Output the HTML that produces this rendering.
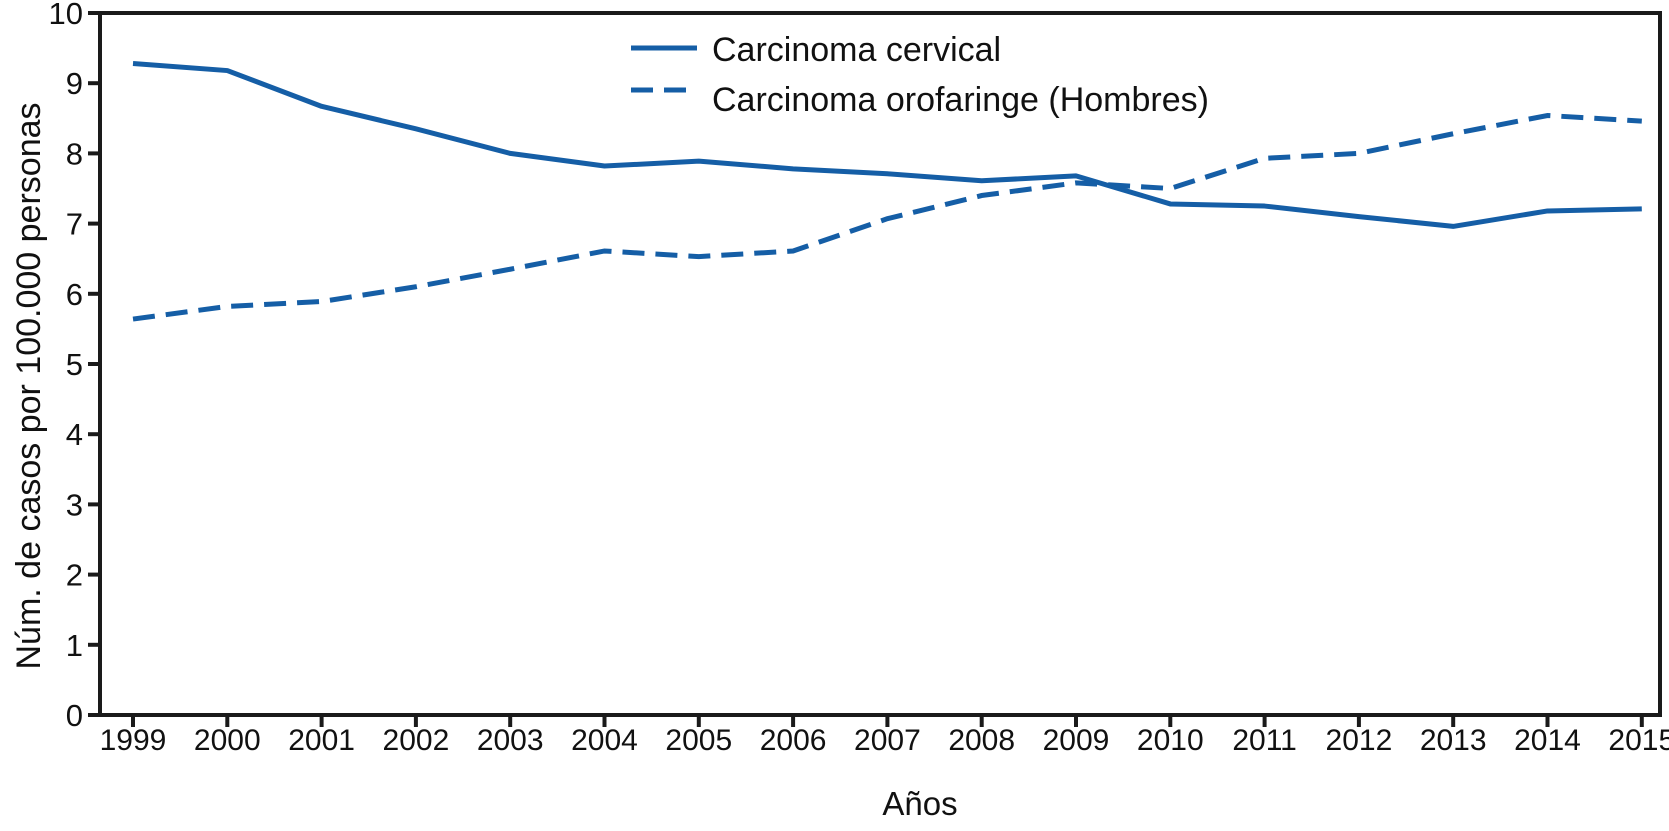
<!DOCTYPE html>
<html><head><meta charset="utf-8"><style>
body{margin:0;background:#fff}
text{font-family:"Liberation Sans",sans-serif;fill:#111}
</style></head><body>
<svg id="c" width="1669" height="826" xmlns="http://www.w3.org/2000/svg">
<rect x="100" y="13" width="1560" height="702" fill="none" stroke="#1a1a1a" stroke-width="4"/>
<g id="ax"></g>
<g id="ln"></g>
<g>
<line x1="631" y1="48" x2="697" y2="48" stroke="#155ea6" stroke-width="5"/>
<text x="712" y="61" font-size="34">Carcinoma cervical</text>
<line x1="631" y1="90" x2="697" y2="90" stroke="#155ea6" stroke-width="5" stroke-dasharray="22,11"/>
<text x="712" y="111" font-size="34">Carcinoma orofaringe (Hombres)</text>
</g>
<text x="920" y="815" font-size="33" text-anchor="middle">Años</text>
<text transform="translate(40,386) rotate(-90)" font-size="34" text-anchor="middle">Núm. de casos por 100.000 personas</text>
</svg>
<script>
const years=[1999,2000,2001,2002,2003,2004,2005,2006,2007,2008,2009,2010,2011,2012,2013,2014,2015];
const cervical=[9.28,9.18,8.67,8.35,8.0,7.82,7.89,7.78,7.71,7.61,7.68,7.28,7.25,7.1,6.96,7.18,7.21];
const orofaringe=[5.64,5.82,5.89,6.1,6.35,6.61,6.53,6.61,7.07,7.4,7.58,7.5,7.93,8.0,8.28,8.54,8.46];
const yTicks=[0,1,2,3,4,5,6,7,8,9,10];
const NS="http://www.w3.org/2000/svg";
const xs=i=>133+i*94.3, ys=v=>715-v*70.2;
const ax=document.getElementById('ax'), ln=document.getElementById('ln');
function mk(t,a,p){const e=document.createElementNS(NS,t);for(const k in a)e.setAttribute(k,a[k]);p.appendChild(e);return e;}
yTicks.forEach(v=>{
 const l=mk('line',{x1:88,x2:100,y1:ys(v),y2:ys(v),stroke:'#1a1a1a','stroke-width':4},ax);
 
 
 const t=mk('text',{x:83,y:ys(v)+11,'font-size':31,'text-anchor':'end'},ax);t.textContent=v;
 
 
});
years.forEach((y,i)=>{
 const l=mk('line',{x1:xs(i),x2:xs(i),y1:715,y2:727,stroke:'#1a1a1a','stroke-width':4},ax);
 
 
 const t=mk('text',{x:xs(i),y:750,'font-size':30,'text-anchor':'middle'},ax);t.textContent=y;
 
 
});
function path(d){return d.map((v,i)=>(i?'L':'M')+xs(i)+','+ys(v)).join('');}
const p1=mk('path',{d:path(cervical),fill:'none',stroke:'#155ea6','stroke-width':5,'stroke-linejoin':'round'},ln);


const p2=mk('path',{d:path(orofaringe),fill:'none',stroke:'#155ea6','stroke-width':5,'stroke-dasharray':'22,11'},ln);


</script>
</body></html>
